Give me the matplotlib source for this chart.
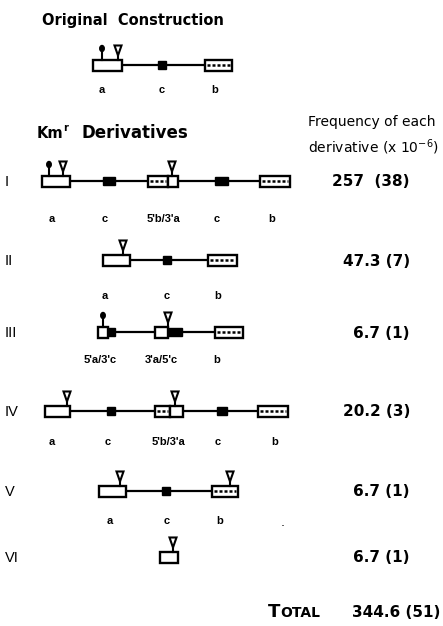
import matplotlib.pyplot as plt
from matplotlib.patches import Rectangle, Polygon, Ellipse

plt.rcParams['font.family'] = ['DejaVu Sans']
plt.rcParams['mathtext.default'] = 'regular'

# derivative classes and their frequencies (x 10^-6) with counts
roman = ['I', 'II', 'III', 'IV', 'V', 'VI']
freq = ['257', '47.3', '6.7', '20.2', '6.7', '6.7']
counts = [38, 7, 1, 3, 1, 1]
total_freq = '344.6'
total_count = 51

# segment labels under each construct
orig_labels = ['a', 'c', 'b']
row_labels = [
    ['a', 'c', "5'b/3'a", 'c', 'b'],
    ['a', 'c', 'b'],
    ["5'a/3'c", "3'a/5'c", 'b'],
    ['a', 'c', "5'b/3'a", 'c', 'b'],
    ['a', 'c', 'b'],
    [],
]

# layout (pixels): row centres, label rows, element spans
orig_y, orig_lab_y = 65, 90
row_y = [181, 260, 332, 411, 491, 557]
lab_y = [219, 296, 360, 442, 521, None]

orig_parts = [('white', 93, 122), ('black', 158, 166), ('dot', 205, 232)]
orig_line = (122, 205)
orig_pins, orig_tris = [102], [118]
orig_lab_x = [102, 162, 215]

parts = [
    [('white', 42, 70), ('black', 103, 115), ('dot', 148, 168), ('white', 168, 178),
     ('black', 215, 228), ('dot', 260, 290)],
    [('white', 103, 130), ('black', 163, 171), ('dot', 208, 237)],
    [('white', 98, 108), ('black', 108, 115), ('white', 155, 168), ('black', 168, 182),
     ('dot', 215, 243)],
    [('white', 45, 70), ('black', 107, 115), ('dot', 155, 170), ('white', 170, 183),
     ('black', 217, 227), ('dot', 258, 288)],
    [('white', 99, 126), ('black', 162, 170), ('dot', 212, 238)],
    [('white', 160, 178)],
]
lines = [(70, 260), (130, 208), (115, 215), (70, 258), (126, 212), None]
pins = [[49], [], [103], [], [], []]
tris = [[63, 172], [123], [168], [67, 175], [120, 230], [173]]
lab_x = [
    [52, 105, 163, 217, 272],
    [105, 167, 218],
    [100, 161, 217],
    [52, 108, 168, 218, 275],
    [110, 167, 220],
    [],
]

fig = plt.figure(figsize=(4.43, 6.26), dpi=100)
ax = fig.add_axes([0, 0, 1, 1])
ax.set_xlim(0, 443)
ax.set_ylim(626, 0)
ax.axis('off')

H = 5.5
lab_font = ['Liberation Sans', 'DejaVu Sans']


def draw_construct(y, segs, span, pin_x, tri_x):
    if span:
        ax.plot(span, [y, y], color='black', lw=1.6, solid_capstyle='butt', zorder=1)
    for kind, x0, x1 in segs:
        if kind == 'black':
            ax.add_patch(Rectangle((x0, y - 4), x1 - x0, 8, facecolor='black',
                                   edgecolor='black', lw=1, zorder=3))
        else:
            ax.add_patch(Rectangle((x0, y - H), x1 - x0, 2 * H, facecolor='white',
                                   edgecolor='black', lw=1.7, zorder=2))
            if kind == 'dot':
                ax.plot([x0 + 2, x1 - 2], [y, y], color='black', lw=1.8,
                        linestyle=(0, (1.2, 0.8)), zorder=3)
    for px in pin_x:
        ax.plot([px, px], [y - H, y - H - 10], color='black', lw=1.5, zorder=3)
        ax.add_patch(Ellipse((px, y - H - 11), 4.5, 6, color='black', zorder=4))
    for tx in tri_x:
        ax.plot([tx, tx], [y - H, y - H - 4], color='black', lw=1.5, zorder=3)
        ax.add_patch(Polygon([(tx - 3.5, y - H - 14), (tx + 3.5, y - H - 14), (tx, y - H - 4)],
                             closed=True, facecolor='white', edgecolor='black', lw=1.5, zorder=4))


# original construction
ax.text(42, 20, 'Original  Construction', fontsize=10.5, fontweight='bold', va='center')
draw_construct(orig_y, orig_parts, orig_line, orig_pins, orig_tris)
for lab, x in zip(orig_labels, orig_lab_x):
    ax.text(x, orig_lab_y, lab, fontsize=8, fontweight='bold', ha='center', va='center',
            family=lab_font)

# headers
ax.text(37, 133, 'Km', fontsize=10.5, fontweight='bold', va='center')
ax.text(63, 128, 'r', fontsize=7, fontweight='bold', va='center')
ax.text(82, 133, 'Derivatives', fontsize=12, fontweight='bold', va='center')
ax.text(308, 122, 'Frequency of each', fontsize=10, va='center')
ax.text(308, 147, 'derivative (x 10$^{-6}$)', fontsize=10, va='center')

# derivative rows
for i in range(len(roman)):
    y = row_y[i]
    ax.text(5, y + 1, roman[i], fontsize=10.5, va='center', family=lab_font)
    draw_construct(y, parts[i], lines[i], pins[i], tris[i])
    gap = '  ' if i == 0 else ' '
    ax.text(410, y + 1, f'{freq[i]}{gap}({counts[i]})', fontsize=11, fontweight='bold',
            ha='right', va='center')
    for lab, x in zip(row_labels[i], lab_x[i]):
        ax.text(x, lab_y[i], lab, fontsize=8, fontweight='bold', ha='center', va='center',
                family=lab_font)

ax.text(283, 523, '.', fontsize=9, ha='center', va='center')

# total
ax.text(268, 617, 'T', fontsize=13, fontweight='bold', va='baseline')
ax.text(280, 617, 'OTAL', fontsize=10, fontweight='bold', va='baseline')
ax.text(440, 617, f'{total_freq} ({total_count})', fontsize=11, fontweight='bold',
        ha='right', va='baseline')

fig.savefig('out.png', dpi=100)
